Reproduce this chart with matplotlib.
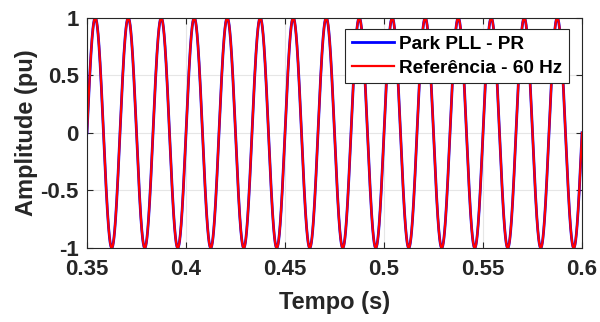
import numpy as np
import matplotlib
matplotlib.use("Agg")
import matplotlib.pyplot as plt

plt.rcParams['font.family'] = ['Liberation Sans', 'DejaVu Sans']
plt.rcParams['font.weight'] = 'bold'

# Signal parameters
freq_hz = 60.0
amplitude = 1.0
t_start, t_end = 0.35, 0.60

x_ticks = [0.35, 0.4, 0.45, 0.5, 0.55, 0.6]
x_tick_labels = ['0.35', '0.4', '0.45', '0.5', '0.55', '0.6']
y_ticks = [-1, -0.5, 0, 0.5, 1]
y_tick_labels = ['-1', '-0.5', '0', '0.5', '1']

t = np.linspace(t_start, t_end, 5001)
pll_out = amplitude * np.sin(2 * np.pi * freq_hz * t)
reference = amplitude * np.sin(2 * np.pi * freq_hz * t)

fig = plt.figure(figsize=(6.0, 3.22), dpi=100)
ax = fig.add_axes([0.145, 0.23, 0.825, 0.715])

ax.plot(t, pll_out, color='#0000ff', lw=2.0, label='Park PLL - PR')
ax.plot(t, reference, color='#ff0000', lw=1.6, label='Referência - 60 Hz')

ax.set_xlim(t_start, t_end)
ax.set_ylim(-1, 1)
ax.set_xticks(x_ticks)
ax.set_xticklabels(x_tick_labels)
ax.set_yticks(y_ticks)
ax.set_yticklabels(y_tick_labels)
ax.tick_params(direction='in', length=4, width=0.8, labelsize=16, colors='#262626',
               top=True, right=True)
ax.tick_params(axis='x', pad=8)
ax.tick_params(axis='y', pad=6)
for lbl in ax.get_xticklabels() + ax.get_yticklabels():
    lbl.set_fontweight('bold')
ax.grid(True, color='#e6e6e6', lw=0.8)
ax.set_axisbelow(True)
for s in ax.spines.values():
    s.set_color('#262626')
    s.set_linewidth(0.8)

ax.set_xlabel('Tempo (s)', fontsize=17, fontweight='bold', color='#262626', labelpad=8)
ax.set_ylabel('Amplitude (pu)', fontsize=17, fontweight='bold', color='#262626', labelpad=2)

leg = ax.legend(loc='upper right', bbox_to_anchor=(0.974, 0.952),
                frameon=True, fancybox=False, edgecolor='#262626', framealpha=1,
                handlelength=2.2, handletextpad=0.3, borderpad=0.35, labelspacing=0.35,
                borderaxespad=0.0, prop={'weight': 'bold', 'size': 13.7})
leg.get_frame().set_linewidth(0.8)

fig.savefig('out.png', dpi=100)
